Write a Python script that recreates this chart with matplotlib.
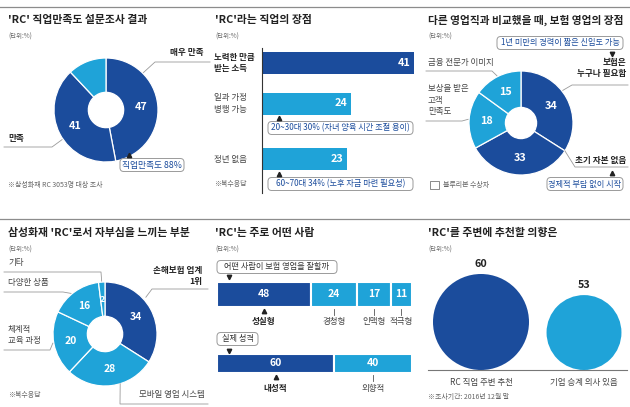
import numpy as np
import matplotlib
matplotlib.use("Agg")
import matplotlib.pyplot as plt
from matplotlib.lines import Line2D
from matplotlib.patches import Circle, FancyBboxPatch

plt.rcParams["font.family"] = ["Noto Sans CJK KR", "DejaVu Sans"]

W, H = 630, 407
DARK = "#1b4c9c"
LIGHT = "#1fa3d8"
INK = "#222222"
MUTED = "#666666"
RULE = "#9a9a9a"

# ---- data ----
sat_values = [47, 41, 12]          # 매우 만족, 만족, 나머지
sat_colors = [DARK, DARK, LIGHT]
sat_total = 88

merit_labels = ["노력한 만큼\n받는 소득", "일과 가정\n병행 가능", "정년 없음"]
merit_values = [41, 24, 23]
merit_notes = ["20~30대 30% (자녀 양육 시간 조절 용이)", "60~70대 34% (노후 자금 마련 필요성)"]

sales_labels = ["보험은\n누구나 필요함", "초기 자본 없음", "보상을 받은\n고객\n만족도", "금융 전문가 이미지"]
sales_values = [34, 33, 18, 15]
sales_colors = [DARK, DARK, LIGHT, LIGHT]

pride_labels = ["손해보험 업계\n1위", "모바일 영업 시스템", "체계적\n교육 과정", "다양한 상품", "기타"]
pride_values = [34, 28, 20, 16, 2]
pride_colors = [DARK, LIGHT, LIGHT, LIGHT, LIGHT]

type_labels = ["성실형", "경청형", "인맥형", "적극형"]
type_values = [48, 24, 17, 11]
char_labels = ["내성적", "외향적"]
char_values = [60, 40]

rec_labels = ["RC 직업 주변 추천", "기업 승계 의사 있음"]
rec_values = [60, 53]

fig = plt.figure(figsize=(W / 100, H / 100), dpi=100)


# ---- helpers (pixel coords, y from top) ----
def text(x, y, s, size=6, color=INK, weight="normal", ha="left", va="center", **kw):
    fig.text(x / W, 1 - y / H, s, fontsize=size, color=color, fontweight=weight,
             ha=ha, va=va, **kw)


def line(xs, ys, color=RULE, lw=0.6):
    fig.add_artist(Line2D([x / W for x in xs], [1 - y / H for y in ys], color=color, lw=lw))


def marker(x, y, m):
    fig.add_artist(Line2D([x / W], [1 - y / H], marker=m, ms=3.2, color=INK, lw=0))


def boxed(x0, x1, y, s, color=DARK, h=13, size=5.9):
    fig.add_artist(FancyBboxPatch(
        (x0 / W, 1 - (y + h / 2) / H), (x1 - x0) / W, h / H,
        boxstyle="round,pad=0,rounding_size=0.006", mutation_aspect=W / H,
        transform=fig.transFigure, fc="white", ec=RULE, lw=0.7))
    text((x0 + x1) / 2, y, s, size=size, color=color, ha="center")


def add_ax(x0, y0, x1, y1):
    ax = fig.add_axes([x0 / W, 1 - y1 / H, (x1 - x0) / W, (y1 - y0) / H])
    ax.set_axis_off()
    return ax


def rim(cx, cy, r, ang):
    a = np.radians(ang)
    return cx + r * np.cos(a), cy - r * np.sin(a)


def donut(cx, cy, r, values, colors, hole=0.34):
    ax = add_ax(cx - r, cy - r, cx + r, cy + r)
    wedges, _ = ax.pie(values, colors=colors, startangle=90, counterclock=False,
                       wedgeprops=dict(width=1 - hole, edgecolor="white", linewidth=0.9))
    ax.set_xlim(-1, 1)
    ax.set_ylim(-1, 1)
    return ax, wedges


def wedge_values(ax, wedges, values, skip=(), dist=0.67, size=7.8):
    for i, (w, v) in enumerate(zip(wedges, values)):
        if i in skip:
            continue
        a = np.radians((w.theta1 + w.theta2) / 2)
        ax.text(dist * np.cos(a), dist * np.sin(a), str(v), color="white",
                fontsize=size, fontweight="bold", ha="center", va="center")


def header(x, y, title, size=7.8):
    text(x, y, title, size=size, weight="bold")
    text(x, y + 17, "(단위:%)", size=4.6, color=MUTED)


# separators
line([0, 630], [7, 7], color="#8c8c8c", lw=0.9)
line([0, 630], [219, 219], color="#8c8c8c", lw=0.9)

# ---- panel 1: 직업만족도 ----
header(8, 20, "'RC' 직업만족도 설문조사 결과")
cx, cy, r = 106, 110, 52
ax, wd = donut(cx, cy, r, sat_values, sat_colors)
wedge_values(ax, wd, sat_values, skip=(2,))
text(170, 53, "매우 만족", size=6.2, weight="bold")
x, y = rim(cx, cy, r + 1, 45)
line([x, 155, 210], [y, 62, 62])
text(8, 138, "만족", size=6.2, weight="bold")
x, y = rim(cx, cy, r + 1, 214)
line([x, 52, 4], [y, 147, 147])
marker(129, 155, "^")
boxed(120, 184, 165, f"직업만족도 {sat_total}%", size=6.3)
text(8, 185, "※삼성화재 RC 3053명 대상 조사", size=5, color=MUTED)

# ---- panel 2: 직업의 장점 ----
header(215, 20, "'RC'라는 직업의 장점")
ax = add_ax(262, 48, 414, 193)
merit_y = [63, 103.5, 159]
ax.barh(merit_y, merit_values, height=22, color=[DARK, LIGHT, LIGHT])
ax.set_xlim(0, max(merit_values))
ax.set_ylim(193, 48)
ax.plot([0, 0], [48, 193], color="#333333", lw=0.8, clip_on=False)
for yy, v in zip(merit_y, merit_values):
    ax.text(v - 1, yy, str(v), color="white", fontsize=7.8, fontweight="bold",
            ha="right", va="center")
for i, (yy, lab) in enumerate(zip(merit_y, merit_labels)):
    text(214, yy, lab, size=6.1, weight="bold" if i == 0 else "normal",
         color=INK if i == 0 else "#444444", linespacing=1.4)
marker(279, 118, "^")
boxed(268, 413, 128, merit_notes[0])
marker(279, 174, "^")
boxed(268, 413, 184, merit_notes[1])
text(214, 184, "※복수응답", size=5, color=MUTED)

# ---- panel 3: 보험 영업의 장점 ----
header(428, 20, "다른 영업직과 비교했을 때, 보험 영업의 장점", size=7.7)
cx, cy, r = 521, 123, 52
ax, wd = donut(cx, cy, r, sales_values, sales_colors, hole=0.3)
wedge_values(ax, wd, sales_values)
boxed(497, 623, 43, "1년 미만의 경력이 짧은 신입도 가능")
marker(612, 54, "v")
text(626, 68, sales_labels[0], size=6.2, weight="bold", ha="right", linespacing=1.3)
x, y = rim(cx, cy, r + 1, 38)
line([x, 572, 628], [y, 85, 85])
text(626, 160, sales_labels[1], size=6.2, weight="bold", ha="right")
x, y = rim(cx, cy, r, 90 - sales_values[0] * 3.6)
line([x, 575, 628], [y, 167, 167])
marker(612, 173, "^")
boxed(547, 623, 184, "경제적 부담 없이 시작")
text(428, 62, sales_labels[3], size=6.1, color="#444444")
x, y = rim(cx, cy, r + 1, 117)
line([x, 492, 426], [y, 71, 71])
text(428, 100, sales_labels[2], size=6.1, color="#444444", linespacing=1.3)
x, y = rim(cx, cy, r + 1, 176)
line([x, 462, 426], [y, 121, 121])
fig.add_artist(FancyBboxPatch((430 / W, 1 - 189 / H), 9 / W, 8 / H, boxstyle="square,pad=0",
                              transform=fig.transFigure, fc="white", ec="#777777", lw=0.6))
text(443, 185, "블루리본 수상자", size=5, color=MUTED)

# ---- panel 4: 자부심 ----
header(8, 233, "삼성화재 'RC'로서 자부심을 느끼는 부분")
cx, cy, r = 105, 334, 52
ax, wd = donut(cx, cy, r, pride_values, pride_colors)
wedge_values(ax, wd, pride_values, size=7.5)
for t in ax.texts:
    if t.get_text() == "2":
        t.set_fontsize(6.5)
text(202, 276, pride_labels[0], size=6.2, weight="bold", ha="right", linespacing=1.3)
x, y = rim(cx, cy, r + 3, 42)
line([x, 152, 208], [y, 289, 289])
text(205, 395, pride_labels[1], size=6.1, ha="right", color="#444444")
x, y = rim(cx, cy, r, -73)
line([x, 120, 208], [y, 404, 404])
text(8, 335, pride_labels[2], size=6.1, color="#444444", linespacing=1.3)
x, y = rim(cx, cy, r + 1, 190)
line([x, 50, 4], [y, 350, 350])
text(8, 282, pride_labels[3], size=6.1, color="#444444")
x, y = rim(cx, cy, r + 1, 130)
line([x, 63, 4], [y, 292, 292])
text(8, 262, pride_labels[4], size=6.1, color="#444444")
x, y = rim(cx, cy, r + 1, 93.6)
line([x, 101, 4], [y, 272, 272])
text(8, 395, "※복수응답", size=5, color=MUTED)

# ---- panel 5: 어떤 사람 ----
header(215, 233, "'RC'는 주로 어떤 사람")
boxed(217, 337, 267, "어떤 사람이 보험 영업을 잘할까", color="#333333", size=5.9)
marker(229, 277, "v")
boxed(217, 258, 339, "실제 성격", color="#333333", size=5.9)
marker(229, 351, "v")
ax = add_ax(217, 282, 412, 373)
ax.set_xlim(0, 100)
ax.set_ylim(373, 282)
rows = [(type_values, type_labels, 294.5, 25, 322), (char_values, char_labels, 363.5, 19, 389)]
for vals, labs, yc, hgt, ylab in rows:
    lefts = np.concatenate([[0], np.cumsum(vals)[:-1]])
    cols = [DARK] + [LIGHT] * (len(vals) - 1)
    ax.barh([yc] * len(vals), vals, left=lefts, height=hgt, color=cols,
            edgecolor="white", linewidth=1.5)
    for i, (l, v, lab) in enumerate(zip(lefts, vals, labs)):
        mid = l + v / 2
        ax.text(mid, yc, str(v), color="white", fontsize=7.5, fontweight="bold",
                ha="center", va="center")
        if i == 0:
            ax.plot([mid], [yc + hgt / 2 + 4], marker="^", ms=3.2, color=INK, clip_on=False)
            ax.text(mid, ylab, lab, fontsize=6.2, fontweight="bold", ha="center",
                    va="center", color=INK, clip_on=False)
        else:
            ax.plot([mid, mid], [yc + hgt / 2 + 2, yc + hgt / 2 + 8], color="#555555",
                    lw=0.6, clip_on=False)
            ax.text(mid, ylab, lab, fontsize=6.1, ha="center", va="center",
                    color="#444444", clip_on=False)

# ---- panel 6: 추천 의향 ----
header(428, 233, "'RC'를 주변에 추천할 의향은")
ax = add_ax(425, 250, 630, 375)
ax.set_xlim(425, 630)
ax.set_ylim(375, 250)
base = 370
for cxp, v, lab, col in zip([481, 584], rec_values, rec_labels, [DARK, LIGHT]):
    rad = 48 * (v / rec_values[0]) ** 2
    ax.add_patch(Circle((cxp, base - rad), rad, color=col, lw=0))
    ax.text(cxp, base - 2 * rad - 10, str(v), fontsize=7.8, fontweight="bold",
            ha="center", va="center", color=INK)
    text(cxp, 382, lab, size=6.1, ha="center", color="#444444")
ax.plot([428, 627], [base, base], color="#777777", lw=0.8)
text(428, 397, "※조사기간: 2016년 12월 말", size=5, color=MUTED)

fig.savefig("out.png", dpi=100)
